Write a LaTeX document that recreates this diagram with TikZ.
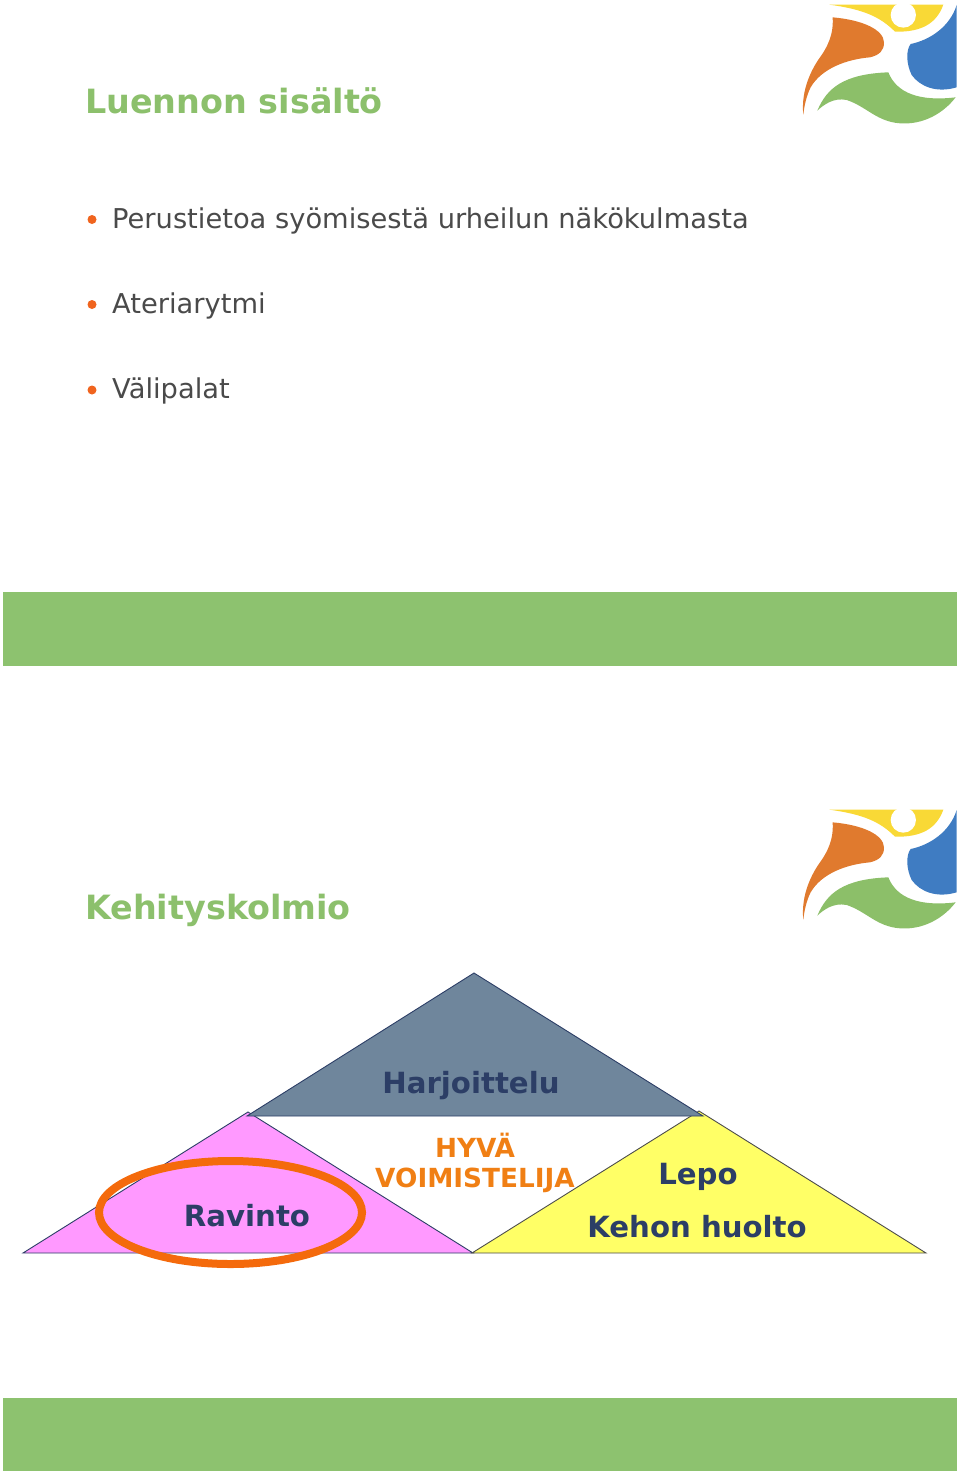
\documentclass[tikz,border=0pt]{standalone}
\usepackage{fontspec}
\setmainfont{DejaVu Sans}
\definecolor{barg}{HTML}{8DC26F}
\definecolor{titleg}{HTML}{8CC06C}
\definecolor{bodyc}{HTML}{4A4A4A}
\definecolor{darkb}{HTML}{2C3E66}
\definecolor{orangeb}{HTML}{F0641E}
\definecolor{orangec}{HTML}{F07F14}
\definecolor{ringc}{HTML}{F46A0C}
\definecolor{slateb}{HTML}{6F869C}
\definecolor{pinkf}{HTML}{FF99FF}
\definecolor{yellowf}{HTML}{FFFF66}
\definecolor{logoy}{HTML}{F9D936}
\definecolor{logoo}{HTML}{E07A2E}
\definecolor{logob}{HTML}{3F7CC2}
\definecolor{logog}{HTML}{8CBF69}
\tikzset{
  pics/logo/.style={code={
    \begin{scope}[x=.3333pt,y=-.3333pt]
      \fill[logoy] (148,14) -- (490,14) .. controls (470,70) and (425,97) .. (345,95) .. controls (300,50) and (250,28) .. (148,14) -- cycle;
      \fill[white] (370,45) circle (38);
      \fill[logoo] (158,52) .. controls (250,60) and (312,90) .. (312,128) .. controls (312,150) and (300,165) .. (270,172) .. controls (200,178) and (125,205) .. (92,262) .. controls (80,285) and (72,320) .. (70,345) .. controls (62,270) and (95,205) .. (125,165) .. controls (155,120) and (160,85) .. (158,52) -- cycle;
      \fill[logob] (530,15) -- (530,262) .. controls (470,280) and (420,260) .. (395,225) .. controls (378,190) and (378,150) .. (392,132) .. controls (450,120) and (510,80) .. (530,15) -- cycle;
      \fill[logog] (112,332) .. controls (140,265) and (190,222) .. (325,217) .. controls (350,280) and (420,305) .. (527,292) .. controls (490,340) and (430,375) .. (360,370) .. controls (290,365) and (260,320) .. (200,300) .. controls (160,292) and (130,315) .. (112,332) -- cycle;
    \end{scope}
  }},
  titletext/.style={anchor=base west,inner sep=0pt,font=\bfseries\fontsize{33.4}{33.4}\selectfont,text=titleg},
  bodytext/.style={anchor=base west,inner sep=0pt,font=\fontsize{27.3}{27.3}\selectfont,text=bodyc},
  dotmark/.style={circle,fill=orangeb,inner sep=0pt,minimum size=9pt},
  bar/.style={fill=barg},
  tri/.style={line width=.9pt},
  labeltext/.style={anchor=base,inner sep=0pt,font=\bfseries\fontsize{29.2}{29.2}\selectfont,text=darkb},
  goodtext/.style={anchor=base,inner sep=0pt,font=\bfseries\fontsize{26.3}{26.3}\selectfont,text=orangec}
}
\begin{document}
\begin{tikzpicture}[x=1pt,y=-1pt]

        \useasboundingbox (0,0) rectangle (960,1477);

        \fill[bar] (3,592) rectangle (957,665.5);
        \fill[bar] (3,1398) rectangle (957,1471);

        \pic at (780,0) {logo};
        \pic at (780,805) {logo};

        \node[titletext] (title1) at (85,113.5) {Luennon sisältö};
        \node[titletext] (title2) at (85,919) {Kehityskolmio};

        \begin{scope}[every node/.style={dotmark}]
          \node (dot1) at (92,219.5) {};
          \node (dot2) at (92,304.5) {};
          \node (dot3) at (92,390) {};
        \end{scope}

        \begin{scope}[every node/.style={bodytext}]
          \node (item1) at (112,228) {Perustietoa syömisestä urheilun näkökulmasta};
          \node (item2) at (112,313) {Ateriarytmi};
          \node (item3) at (112,398) {Välipalat};
        \end{scope}

        \draw[tri,fill=pinkf,draw=darkb] (23,1253) -- (248,1112) -- (473,1253) -- cycle;
        \draw[tri,fill=yellowf,draw=black!70] (472,1253) -- (699,1111) -- (926,1253) -- cycle;
        \draw[tri,fill=slateb,draw=darkb] (247,1116) -- (474,973) -- (703,1116) -- cycle;

        \draw[ringc,line width=8pt] (230.5,1212.5) ellipse (131.5 and 51.5);

        \begin{scope}[every node/.style={labeltext}]
          \node (train) at (471,1093) {Harjoittelu};
          \node (food)  at (247,1226) {Ravinto};
          \node (rest)  at (698,1184) {Lepo};
          \node (care)  at (697,1237.5) {Kehon huolto};
        \end{scope}

        \begin{scope}[every node/.style={goodtext}]
          \node (good1) at (475,1157) {HYVÄ};
          \node (good2) at (475,1187) {VOIMISTELIJA};
        \end{scope}

      \end{tikzpicture}
\end{document}
